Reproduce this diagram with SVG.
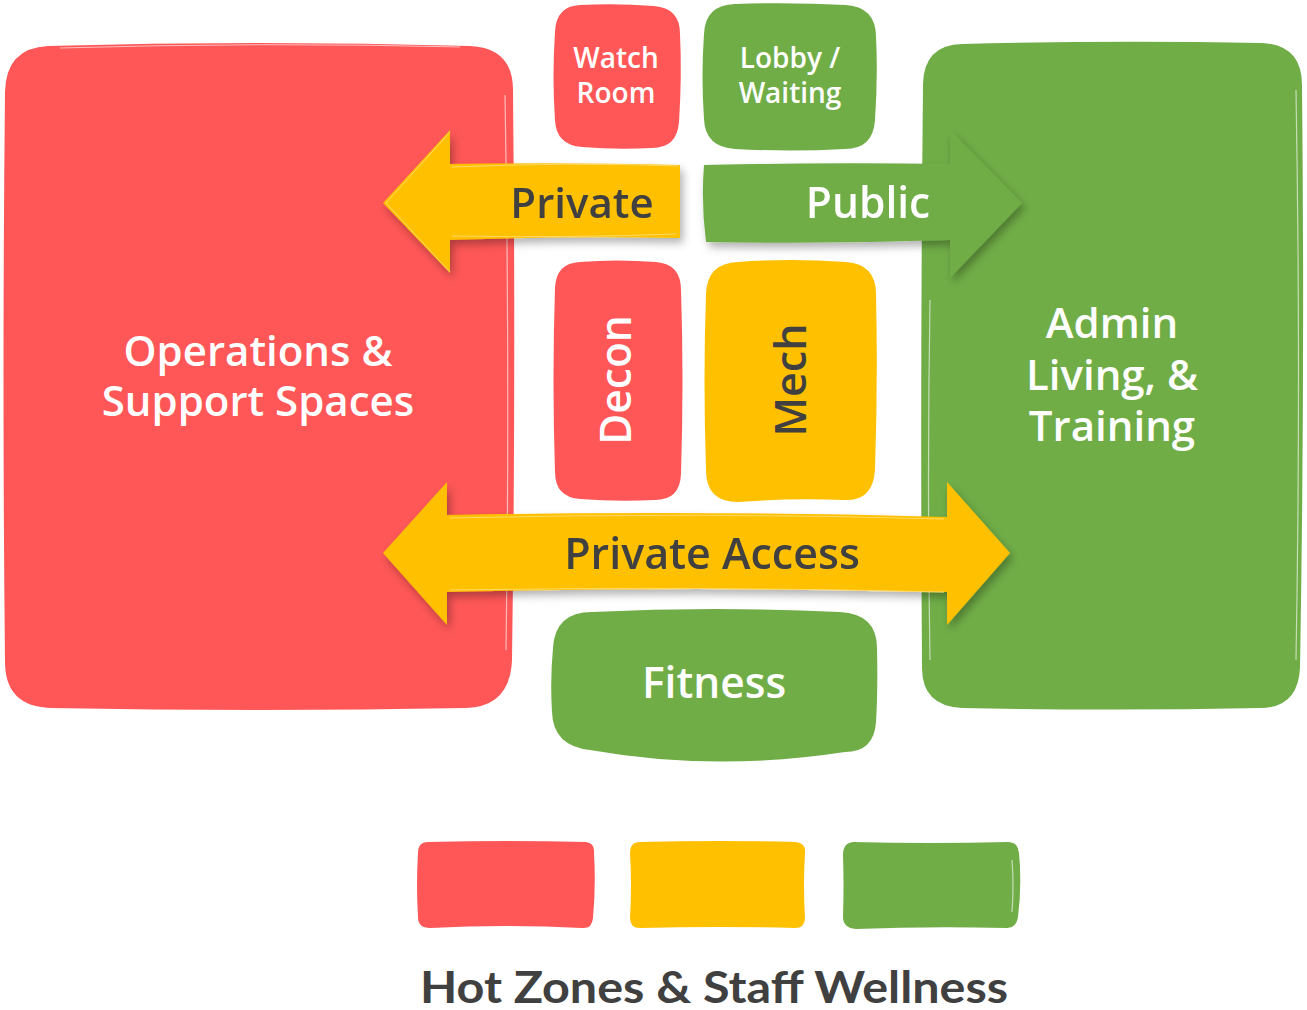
<svg xmlns="http://www.w3.org/2000/svg" width="1307" height="1010" viewBox="0 0 1307 1010">
<style>
.red{fill:#FF5757}
.yel{fill:#FFC000}
.grn{fill:#70AD47}
.sk{fill:none;stroke:#ffffff;stroke-opacity:0.6;stroke-width:1.2}
.lbl{font-family:"Open Sans","Noto Sans",sans-serif;font-weight:600;text-anchor:middle}
.w{fill:#ffffff}
.d{fill:#404040}
</style>
<defs>
<filter id="sh" x="-10%" y="-20%" width="130%" height="150%">
<feDropShadow dx="3" dy="5" stdDeviation="4" flood-color="#000" flood-opacity="0.3"/>
</filter>
</defs>
<rect width="1307" height="1010" fill="#ffffff"/>

<g id="operations">
<path class="red" d="M48,46 Q260,40 470,46 Q514,48 513,92 Q516,380 512,660 Q510,707 466,708 Q260,712 50,708 Q5,706 5,662 Q2,380 5,92 Q6,48 48,46 Z"/>
<path class="sk" d="M60,48 Q260,42 460,47 M505,95 Q510,380 506,650"/>
<text class="lbl w" x="258" y="366" font-size="42">Operations &amp;</text>
<text class="lbl w" x="258" y="416" font-size="42">Support Spaces</text>
</g>

<g id="admin">
<path class="grn" d="M962,44 Q1110,40 1262,43 Q1302,45 1302,85 Q1305,380 1300,668 Q1298,708 1260,708 Q1110,711 962,708 Q922,706 922,668 Q920,380 923,84 Q924,45 962,44 Z"/>
<path class="sk" d="M1296,90 Q1301,380 1296,660 M930,300 Q927,480 930,660"/>
<text class="lbl w" x="1112" y="338" font-size="42">Admin</text>
<text class="lbl w" x="1112" y="390" font-size="42">Living, &amp;</text>
<text class="lbl w" x="1112" y="441" font-size="42">Training</text>
</g>

<g id="watch-room">
<path class="red" d="M580,5 Q616,3 654,6 Q680,8 680,34 Q682,76 679,122 Q677,148 652,148 Q616,150 582,147 Q556,145 555,120 Q552,76 555,32 Q556,6 580,5 Z"/>
<text class="lbl w" x="616" y="68" font-size="28">Watch</text>
<text class="lbl w" x="616" y="103" font-size="28">Room</text>
</g>

<g id="lobby">
<path class="grn" d="M735,4 Q790,2 846,5 Q876,7 876,37 Q878,76 875,120 Q873,149 845,149 Q790,152 735,149 Q705,147 704,119 Q701,76 704,34 Q705,5 735,4 Z"/>
<text class="lbl w" x="790" y="68" font-size="28">Lobby /</text>
<text class="lbl w" x="790" y="103" font-size="28">Waiting</text>
</g>

<g id="decon">
<path class="red" d="M580,262 Q616,259 656,262 Q681,264 681,290 Q684,380 681,474 Q680,500 655,500 Q616,502 580,499 Q555,497 555,472 Q552,380 555,288 Q556,263 580,262 Z"/>
<text class="lbl w" transform="translate(631,380) rotate(-90)" font-size="42.5">Decon</text>
</g>

<g id="mech">
<path class="yel" d="M738,262 Q790,258 846,262 Q876,264 876,294 Q878,380 875,470 Q873,502 843,500 Q790,498 738,502 Q706,502 706,470 Q703,380 706,294 Q707,263 738,262 Z"/>
<text class="lbl d" transform="translate(806,380) rotate(-90)" font-size="43">Mech</text>
</g>

<g id="fitness">
<path class="grn" d="M592,612 Q714,606 840,612 Q877,614 877,648 Q878,690 876,722 Q874,752 845,752 Q714,772 590,750 Q553,746 552,712 Q550,680 553,648 Q555,612 592,612 Z"/>
<text class="lbl w" x="714" y="698" font-size="42.5">Fitness</text>
</g>

<g id="connectors">
<g id="arrow-private" filter="url(#sh)">
<path class="yel" d="M680,165 L680,238 Q570,236 450,240 L450,273 L383,203 L450,130 L450,164 Q570,162 680,165 Z"/>
<path fill="none" stroke="#FFD966" stroke-width="1" d="M452,167 Q570,162 678,166 M452,236 Q570,238 676,234 M450,132 L386,203 L450,272"/>
<text class="lbl d" x="582" y="218" font-size="42">Private</text>
</g>
<g id="arrow-public" filter="url(#sh)">
<path class="grn" d="M704,165 Q830,162 950,164 L950,130 L1022,203 L950,278 L950,240 Q830,244 706,242 Q701,204 704,165 Z"/>
<text class="lbl w" x="868" y="218" font-size="42.5">Public</text>
</g>
<g id="arrow-private-access" filter="url(#sh)">
<path class="yel" d="M447,515 Q700,510 947,517 L947,482 L1010,553 L947,625 L947,592 Q700,586 447,592 L447,625 L383,553 L447,482 Z"/>
<path fill="none" stroke="#FFD966" stroke-width="1" d="M450,518 Q700,512 944,519 M450,590 Q700,586 944,592"/>
<text class="lbl d" x="712" y="569" font-size="43">Private Access</text>
</g>
</g>

<g id="legend">
<path class="red" d="M428,842 Q506,840 586,842 Q595,843 594,853 Q596,885 593,918 Q592,929 582,928 Q506,924 430,928 Q418,928 418,917 Q416,885 418,853 Q418,842 428,842 Z"/>
<path class="yel" d="M640,842 Q718,840 796,842 Q806,843 805,853 Q803,885 805,918 Q805,928 795,928 Q718,926 640,928 Q630,928 630,918 Q632,885 630,853 Q630,842 640,842 Z"/>
<path class="grn" d="M853,842 Q930,844 1008,842 Q1018,842 1019,853 Q1022,885 1018,917 Q1016,929 1006,928 Q930,926 856,929 Q843,928 843,917 Q844,885 843,855 Q843,843 853,842 Z"/>
<path class="sk" d="M1012,860 Q1014,885 1012,912"/>
<text id="legend-title" x="714" y="1003" font-family="Lato,'Open Sans',sans-serif" font-weight="700" font-size="43" fill="#404040" text-anchor="middle" textLength="588" lengthAdjust="spacingAndGlyphs">Hot Zones &amp; Staff Wellness</text>
</g>
</svg>
